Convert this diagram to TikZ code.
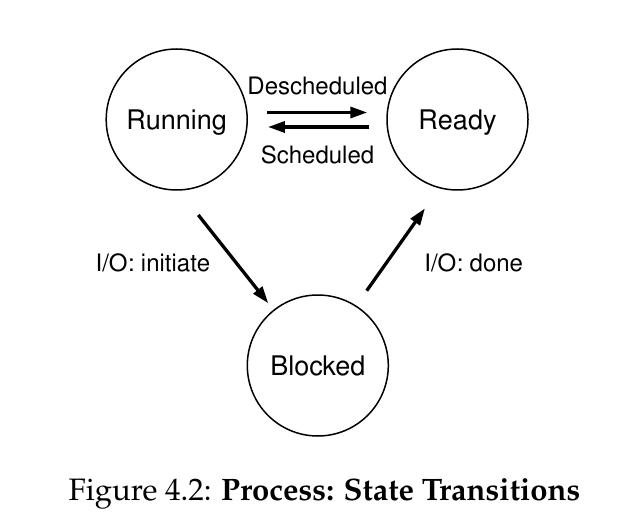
\documentclass[tikz,border=0pt]{standalone}
\usepackage[T1]{fontenc}
\usepackage{mathpazo}
\usepackage{helvet}
\usetikzlibrary{arrows.meta}

\tikzset{
  state/.style={circle, draw, line width=1.5pt, minimum size=141pt, inner sep=0pt,
    font=\sffamily\fontsize{27}{30}\selectfont, text height=19.3pt, text depth=0pt},
  trlabel/.style={inner sep=0pt, font=\sffamily\fontsize{24}{28}\selectfont,
    text height=17.2pt, text depth=0pt},
  trans/.style={line width=3.3pt, -{Triangle[length=17pt,width=11pt]}},
}

\begin{document}
\begin{tikzpicture}[x=1pt, y=-1pt]
  \useasboundingbox (0,0) rectangle (618,526);

  % process states
  \node[state] (run)     at (176.7,119.5) {Running};
  \node[state] (ready)   at (457.5,119.5) {Ready};
  \node[state] (blocked) at (317.8,365.5) {Blocked};

  % scheduler transitions between Running and Ready
  \draw[trans, shorten <=19pt, shorten >=19pt]
    ([yshift=7pt]run.east) -- ([yshift=7pt]ready.west);
  \draw[trans, shorten <=17pt, shorten >=20pt]
    ([yshift=-7.5pt]ready.west) -- ([yshift=-7.5pt]run.east);
  \node[trlabel] (desch) at (317.5,85.5) {Descheduled};
  \node[trlabel] (sch)   at (317.5,155)  {Scheduled};

  % I/O transitions through Blocked
  \coordinate (ioA) at (198.3,215);
  \coordinate (ioB) at (268.3,303.3);
  \coordinate (ioC) at (366.7,290.7);
  \coordinate (ioD) at (425,208.3);
  \draw[trans] (ioA) -- (ioB);
  \draw[trans] (ioC) -- (ioD);
  \node[trlabel] (ioinit) at (153,262.5)   {I/O: initiate};
  \node[trlabel] (iodone) at (473.7,262.5) {I/O: done};

  % caption
  \node[anchor=base, inner sep=0pt, font=\rmfamily\fontsize{31}{36}\selectfont]
    (cap) at (324.5,500) {Figure 4.2: \textbf{Process: State Transitions}};
\end{tikzpicture}
\end{document}
